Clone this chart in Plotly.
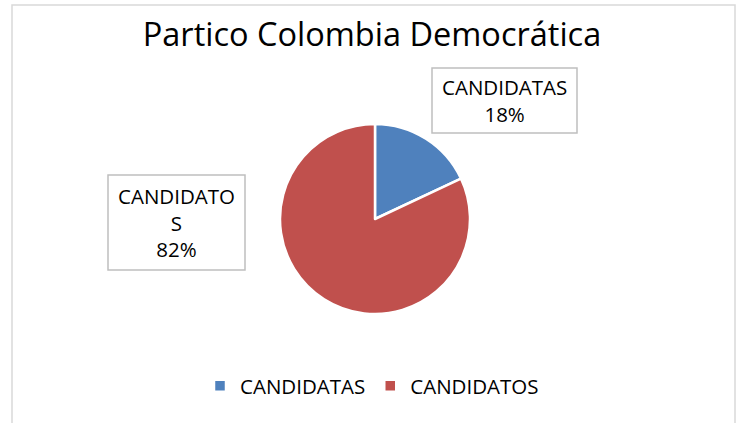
import plotly.graph_objects as go

categorias = ['CANDIDATAS', 'CANDIDATOS']
porcentajes = [18, 82]
colores = ['#4F81BD', '#C0504D']

W, H = 744, 423
fuente = 'Open Sans, Lato, sans-serif'

fig = go.Figure(go.Pie(
    labels=categorias,
    values=porcentajes,
    sort=False,
    direction='clockwise',
    rotation=0,
    marker=dict(colors=colores, line=dict(color='white', width=2.5)),
    textinfo='none',
    hoverinfo='label+percent',
    domain=dict(x=[(375 - 95) / W, (375 + 95) / W],
                y=[(H - 219 - 95) / H, (H - 219 + 95) / H]),
))

total = sum(porcentajes)
etiquetas = [
    '%s<br>%d%%' % (categorias[0], round(100 * porcentajes[0] / total)),
    'CANDIDATO<br>S<br>%d%%' % round(100 * porcentajes[1] / total),
]
cajas = [(504.5, 100.5, 145, 65), (176.5, 222.5, 137, 95)]
for txt, (cx, cy, bw, bh) in zip(etiquetas, cajas):
    fig.add_shape(type='rect', xref='paper', yref='paper',
                  x0=(cx - bw / 2) / W, x1=(cx + bw / 2) / W,
                  y0=1 - (cy - bh / 2) / H, y1=1 - (cy + bh / 2) / H,
                  line=dict(color='#BFBFBF', width=1.5), fillcolor='white')
    fig.add_annotation(x=cx / W, y=1 - cy / H, xref='paper', yref='paper',
                       xanchor='center', yanchor='middle',
                       text=txt, showarrow=False,
                       font=dict(family=fuente, size=20.5, color='black'))

# marco del grafico
fig.add_shape(type='rect', xref='paper', yref='paper',
              x0=12 / W, x1=735 / W, y0=-0.05, y1=1 - 5 / H,
              line=dict(color='#D9D9D9', width=1.5), layer='below')

fig.update_layout(
    width=W, height=H,
    margin=dict(l=0, r=0, t=0, b=0),
    paper_bgcolor='white',
    title=dict(text='Partico Colombia Democrática', x=0.5, xanchor='center',
               y=1 - 35 / H, yanchor='middle',
               font=dict(family=fuente, size=32.5, color='black')),
    showlegend=True,
    legend=dict(orientation='h', x=0.5, xanchor='center', y=1 - 386 / H, yanchor='middle',
                font=dict(family=fuente, size=20.5, color='black'),
                itemwidth=30, traceorder='normal'),
)

fig.write_html('out.html', config={'displayModeBar': False},
               post_script="document.body.style.margin='0';")
